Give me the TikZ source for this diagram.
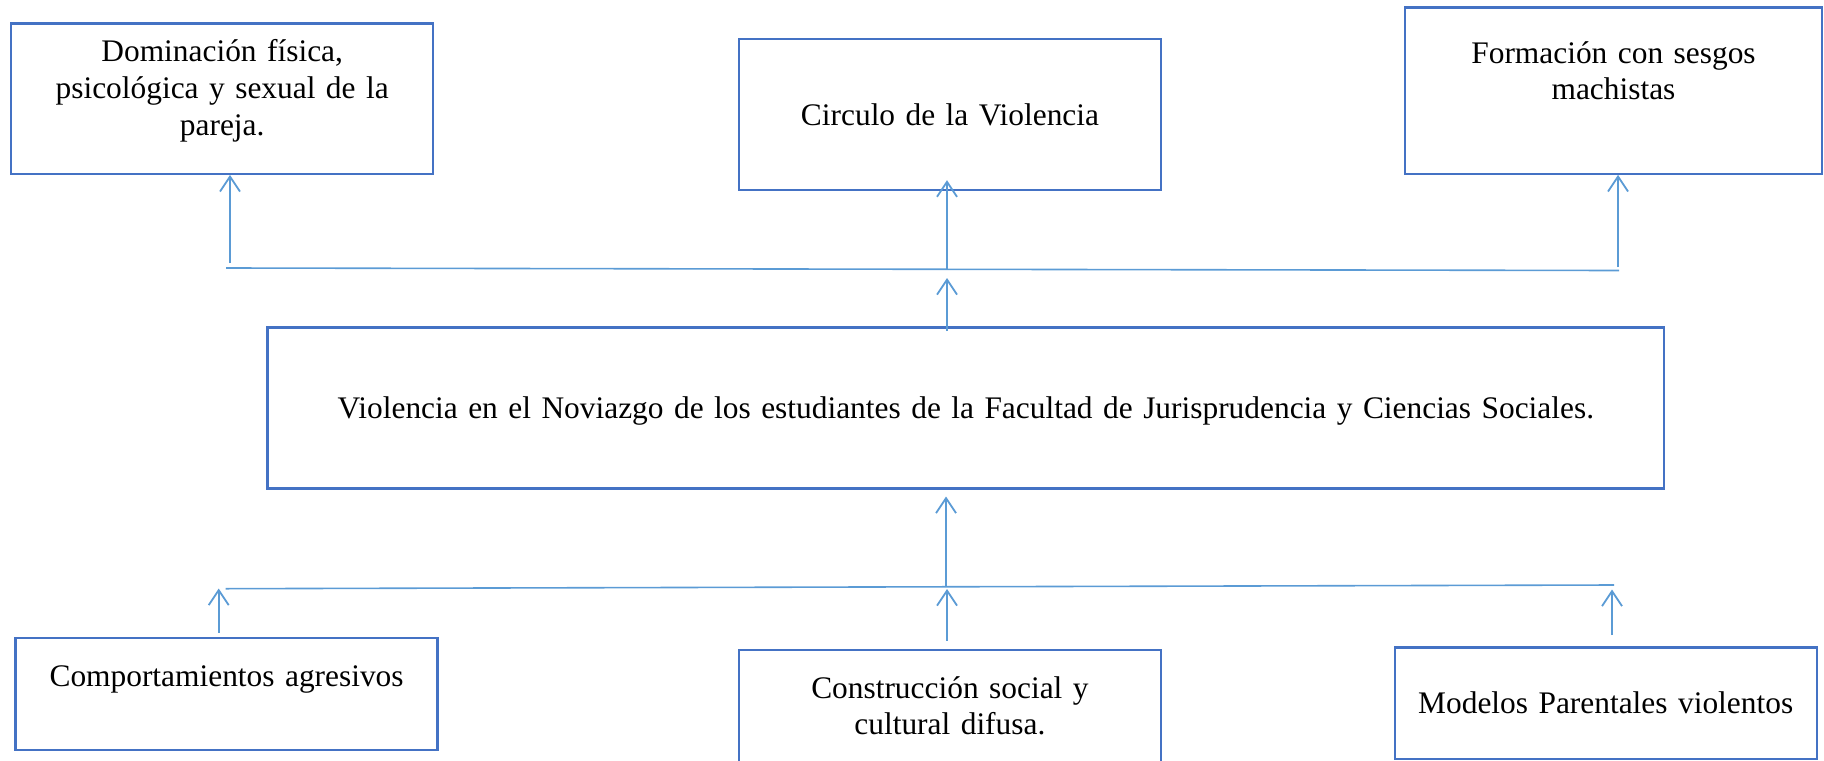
\documentclass[tikz,border=0pt]{standalone}
\usepackage{fontspec}
\setmainfont{Liberation Serif}[WordSpace=0.65]
\usetikzlibrary{arrows.meta,calc}
\definecolor{boxblue}{HTML}{4472C4}
\definecolor{linkblue}{HTML}{5B9BD5}
\tikzset{
factor/.style={draw=boxblue,line width=1.2pt,inner sep=0pt,minimum width=211pt,text width=200pt,align=center,text height=12pt,font=\fontsize{15.7}{18.4}\selectfont},
bus/.style={draw=linkblue,line width=.8pt},
link/.style={-{Straight Barb[length=7.5pt,width=10pt]},draw=linkblue,line width=.9pt}
}
\begin{document}
\begin{tikzpicture}[x=.5pt,y=-.5pt]
\useasboundingbox (0,0) rectangle (1824,760);
\clip (0,0) rectangle (1824,760);
% effects
\node[factor,minimum height=75.2pt,text depth=48.8pt](dominacion) at (222.2,98.5){Dominación física,\\psicológica y sexual de la\\pareja.};
\node[factor,minimum height=75.5pt,text depth=1.5pt](circulo) at (950,114.5){Circulo de la Violencia};
\node[factor,minimum width=208.5pt,minimum height=83.2pt,text depth=39.5pt](formacion) at (1613.5,90.5){Formación con sesgos\\machistas};
% problem
\node[factor,minimum width=698.2pt,text width=680pt,minimum height=80.5pt,text depth=1.8pt](noviazgo) at (965.8,407.8){Violencia en el Noviazgo de los estudiantes de la Facultad de Jurisprudencia y Ciencias Sociales.};
% causes
\node[factor,minimum height=56.15pt,text depth=19.15pt](agresivos) at (226.6,693.85){Comportamientos agresivos};
\node[factor,minimum height=75pt,text depth=39pt](construccion) at (949.9,725){Construcción social y\\cultural difusa.};
\node[factor,minimum height=55.85pt,text depth=2.15pt](parentales) at (1605.7,703.15){Modelos Parentales violentos};
% upper bus
\coordinate(topL) at (226,268);\coordinate(topR) at (1619,270.5);
\coordinate(busA) at (230,263);\coordinate(busB) at (947,269);\coordinate(busC) at (1618,267);\coordinate(busM) at (947,278);
\draw[bus](topL)--(topR);
\draw[link](busA)--(busA |- dominacion.south);
\draw[link](busB)--($(busB |- circulo.south)+(0,-11)$);
\draw[link](busC)--(busC |- formacion.south);
\draw[link]($(busM |- noviazgo.north)+(0,5)$)--(busM);
% lower bus
\coordinate(lowL) at (225.7,588.7);\coordinate(lowR) at (1614,585);
\coordinate(lowM) at (946,585.7);\coordinate(lowD) at (218.7,588.5);\coordinate(lowE) at (947,589);\coordinate(lowF) at (1612,589.5);
\draw[bus](lowL)--(lowR);
\draw[link](lowM)--($(lowM |- noviazgo.south)+(0,7)$);
\draw[link]($(lowD |- agresivos.north)+(0,-4)$)--(lowD);
\draw[link]($(lowE |- construccion.north)+(0,-8)$)--(lowE);
\draw[link]($(lowF |- parentales.north)+(0,-11)$)--(lowF);
\end{tikzpicture}
\end{document}
